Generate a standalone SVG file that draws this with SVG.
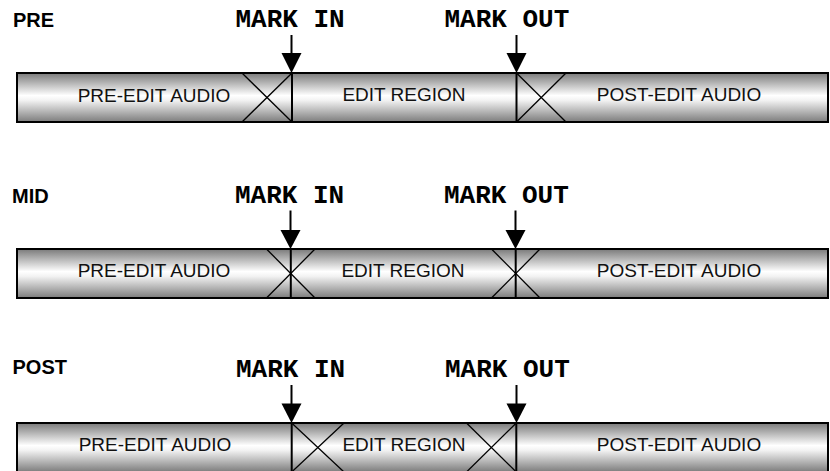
<svg xmlns="http://www.w3.org/2000/svg" width="830" height="471" viewBox="0 0 830 471">
  <defs>
    <linearGradient id="cyl" x1="0" y1="0" x2="0" y2="1">
      <stop offset="0" stop-color="#7a7a7a"/>
      <stop offset="0.46" stop-color="#ffffff"/>
      <stop offset="0.56" stop-color="#f2f2f2"/>
      <stop offset="1" stop-color="#7c7c7c"/>
    </linearGradient>
    <marker id="arr" markerWidth="20" markerHeight="19" refX="10" refY="19" orient="auto-start-reverse" markerUnits="userSpaceOnUse" viewBox="0 0 20 19">
      <path d="M0,0 L20,0 L10,19 Z" fill="#000"/>
    </marker>
  </defs>
  <style>
    .bar { fill: url(#cyl); stroke: #000; stroke-width: 2; }
    .mark { stroke: #000; stroke-width: 2; fill: none; }
    .xf { stroke: #000; stroke-width: 1.3; fill: none; }
    .lbl { font-family: "Liberation Sans", Arial, sans-serif; font-size: 19px; fill: #111; text-anchor: middle; }
    .row { font-family: "Liberation Sans", Arial, sans-serif; font-size: 20px; font-weight: bold; fill: #000; }
    .mk { font-family: "Liberation Mono", "Courier New", monospace; font-size: 26px; font-weight: bold; fill: #000; }
    .arrow { stroke: #000; stroke-width: 2; fill: none; }
    .head { fill: #000; }
  </style>

  <!-- Row 1: PRE -->
  <g id="row-pre">
    <text class="row" x="13" y="27">PRE</text>
    <rect class="bar" x="17" y="73" width="811" height="49"/>
    <g id="pre-xfade-in">
      <line class="xf" x1="242" y1="73" x2="292" y2="122"/>
      <line class="xf" x1="242" y1="122" x2="292" y2="73"/>
      <line class="mark" x1="292" y1="73" x2="292" y2="122"/>
    </g>
    <g id="pre-xfade-out">
      <line class="xf" x1="516.5" y1="73" x2="566" y2="122"/>
      <line class="xf" x1="516.5" y1="122" x2="566" y2="73"/>
      <line class="mark" x1="516.5" y1="73" x2="516.5" y2="122"/>
    </g>
    <text class="lbl" x="154" y="101.5">PRE-EDIT AUDIO</text>
    <text class="lbl" x="404" y="101">EDIT REGION</text>
    <text class="lbl" x="679" y="101">POST-EDIT AUDIO</text>
    <text class="mk" x="235.5" y="27.3">MARK IN</text>
    <text class="mk" x="444.5" y="27.3">MARK OUT</text>
  </g>

  <!-- Row 2: MID -->
  <g id="row-mid">
    <text class="row" x="12" y="203.3">MID</text>
    <rect class="bar" x="17" y="249" width="811" height="49"/>
    <g id="mid-xfade-in">
      <line class="xf" x1="266.5" y1="249" x2="315" y2="298"/>
      <line class="xf" x1="266.5" y1="298" x2="315" y2="249"/>
      <line class="mark" x1="290.8" y1="249" x2="290.8" y2="298"/>
    </g>
    <g id="mid-xfade-out">
      <line class="xf" x1="491.5" y1="249" x2="540" y2="298"/>
      <line class="xf" x1="491.5" y1="298" x2="540" y2="249"/>
      <line class="mark" x1="515.7" y1="249" x2="515.7" y2="298"/>
    </g>
    <text class="lbl" x="154" y="277">PRE-EDIT AUDIO</text>
    <text class="lbl" x="403" y="277">EDIT REGION</text>
    <text class="lbl" x="679" y="277">POST-EDIT AUDIO</text>
    <text class="mk" x="235" y="203.3">MARK IN</text>
    <text class="mk" x="444" y="203.3">MARK OUT</text>
  </g>

  <!-- Row 3: POST -->
  <g id="row-post">
    <text class="row" x="12.5" y="374">POST</text>
    <rect class="bar" x="17" y="423" width="811" height="49"/>
    <g id="post-xfade-in">
      <line class="xf" x1="291.7" y1="423" x2="344" y2="472"/>
      <line class="xf" x1="291.7" y1="472" x2="344" y2="423"/>
      <line class="mark" x1="291.7" y1="423" x2="291.7" y2="472"/>
    </g>
    <g id="post-xfade-out">
      <line class="xf" x1="466.5" y1="423" x2="516.3" y2="472"/>
      <line class="xf" x1="466.5" y1="472" x2="516.3" y2="423"/>
      <line class="mark" x1="516.3" y1="423" x2="516.3" y2="472"/>
    </g>
    <text class="lbl" x="155" y="451">PRE-EDIT AUDIO</text>
    <text class="lbl" x="404" y="451">EDIT REGION</text>
    <text class="lbl" x="679" y="451">POST-EDIT AUDIO</text>
    <text class="mk" x="236" y="377.3">MARK IN</text>
    <text class="mk" x="445" y="377.3">MARK OUT</text>
  </g>

  <!-- Connectors: mark arrows -->
  <g id="connectors">
    <line class="arrow" x1="291.5" y1="35" x2="291.5" y2="55" />
    <path class="head" d="M281.5,53 L301.5,53 L291.5,73 Z"/>
    <line class="arrow" x1="516.5" y1="35" x2="516.5" y2="55" />
    <path class="head" d="M506.5,53 L526.5,53 L516.5,73 Z"/>

    <line class="arrow" x1="290.5" y1="210.5" x2="290.5" y2="232" />
    <path class="head" d="M280.5,230 L300.5,230 L290.5,249 Z"/>
    <line class="arrow" x1="515.5" y1="210.5" x2="515.5" y2="232" />
    <path class="head" d="M505.5,230 L525.5,230 L515.5,249 Z"/>

    <line class="arrow" x1="291.5" y1="385" x2="291.5" y2="405" />
    <path class="head" d="M281.5,403.5 L301.5,403.5 L291.5,423 Z"/>
    <line class="arrow" x1="516.5" y1="385" x2="516.5" y2="405" />
    <path class="head" d="M506.5,403.5 L526.5,403.5 L516.5,423 Z"/>
  </g>
</svg>
